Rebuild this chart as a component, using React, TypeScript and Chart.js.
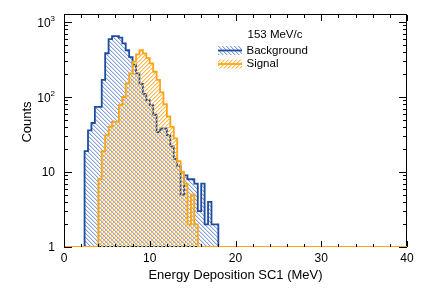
import React, { useEffect, useRef } from 'react';
import { Chart, registerables } from 'chart.js';
Chart.register(...registerables);

// ---- data ----
const binWidth = 0.4; // MeV per bin
const xMin = 0;
const xMax = 40;
const yMin = 1;
const yMax = 1240;

const bgStart = 2.4;
const bgCounts = [
  4, 19, 36, 45, 74, 74, 169, 383, 590, 650,
  650, 620, 520, 420, 340, 270, 207, 150, 110, 91,
  78, 58, 34, 38, 38, 31, 22, 15, 12, 5,
  9, 8, 8, 7, 3, 7, 2, 4, 2, 2,
];

const sigStart = 4.0;
const sigCounts = [
  4, 8, 19, 31, 40, 47, 47, 78, 100, 152,
  207, 296, 370, 423, 380, 330, 280, 217, 169, 115,
  80, 55, 40, 28, 14, 10, 7, 2, 5, 2,
];

const xMajorTicks = [0, 10, 20, 30, 40];
const xMinorStep = 2;
const yDecades = [1, 10, 100, 1000];
const yTickLabels = [
  { base: '1', exp: '' },
  { base: '10', exp: '' },
  { base: '10', exp: '2' },
  { base: '10', exp: '3' },
];

const legendTitle = '153 MeV/c';
const seriesNames = ['Background', 'Signal'];
const xTitle = 'Energy Deposition SC1 (MeV)';
const yTitle = 'Counts';

// ---- style ----
const FONT = '"Liberation Sans", Arial, Helvetica, sans-serif';
const BLUE = '#1f4d9e';
const BLUE_HATCH = ['#86a0d8', 'rgba(140,165,220,0.35)'];
const ORANGE = '#ffa514';
const ORANGE_HATCH = ['#ffb84a', 'rgba(255,190,90,0.45)'];

function toSteps(start: number, counts: number[]) {
  const pts: { x: number; y: number }[] = [{ x: xMin, y: yMin }, { x: start, y: yMin }];
  counts.forEach((c, i) => pts.push({ x: start + i * binWidth, y: Math.max(c, yMin) }));
  const end = start + counts.length * binWidth;
  pts.push({ x: end, y: yMin });
  pts.push({ x: xMax, y: yMin });
  return pts;
}

function makeHatch(ctx: CanvasRenderingContext2D, colors: string[], forward: boolean) {
  const s = 4;
  const c = document.createElement('canvas');
  c.width = s;
  c.height = s;
  const g = c.getContext('2d')!;
  for (let i = 0; i < s; i++) {
    const x = forward ? s - 1 - i : i;
    g.fillStyle = colors[0];
    g.fillRect(x, i, 1, 1);
    g.fillStyle = colors[1];
    g.fillRect((x + 1) % s, i, 1, 1);
  }
  return ctx.createPattern(c, 'repeat')!;
}

export default function App() {
  const ref = useRef<HTMLCanvasElement | null>(null);

  useEffect(() => {
    const canvas = ref.current!;
    const ctx = canvas.getContext('2d')!;
    const blueHatch = makeHatch(ctx, BLUE_HATCH, false);
    const orangeHatch = makeHatch(ctx, ORANGE_HATCH, true);

    const framePlugin = {
      id: 'rootFrame',
      beforeDatasetsDraw(chart: any) {
        const c = chart.ctx as CanvasRenderingContext2D;
        const a = chart.chartArea;
        c.save();
        c.strokeStyle = '#000';
        c.lineWidth = 1;
        c.strokeRect(a.left + 0.5, a.top - 0.5, a.right - a.left - 1, a.bottom - a.top);
        c.restore();
      },
      afterDatasetsDraw(chart: any) {
        const c = chart.ctx as CanvasRenderingContext2D;
        const a = chart.chartArea;
        const xs = chart.scales.x;
        const ys = chart.scales.y;
        c.save();
        c.strokeStyle = '#000';
        c.lineWidth = 1;
        c.beginPath();
        for (let v = xMin; v <= xMax + 1e-9; v += xMinorStep) {
          const px = Math.round(xs.getPixelForValue(v)) + 0.5;
          const major = xMajorTicks.includes(v);
          const len = major ? 6 : 3;
          c.moveTo(px, a.bottom);
          c.lineTo(px, a.bottom - len);
          c.moveTo(px, a.top);
          c.lineTo(px, a.top + len);
        }
        yDecades.forEach((d) => {
          for (let m = 1; m <= 9; m++) {
            const v = d * m;
            if (v > yMax) break;
            const py = Math.round(ys.getPixelForValue(v)) + 0.5;
            const len = m === 1 ? 8 : 4;
            c.moveTo(a.left, py);
            c.lineTo(a.left + len, py);
            c.moveTo(a.right, py);
            c.lineTo(a.right - len, py);
          }
        });
        c.stroke();
        c.restore();
      },
      afterDraw(chart: any) {
        const c = chart.ctx as CanvasRenderingContext2D;
        const a = chart.chartArea;
        const xs = chart.scales.x;
        const ys = chart.scales.y;
        c.save();
        c.fillStyle = '#000';
        // x tick labels
        c.font = `12px ${FONT}`;
        c.textAlign = 'center';
        c.textBaseline = 'middle';
        xMajorTicks.forEach((v) => {
          c.fillText(String(v), xs.getPixelForValue(v), a.bottom + 12);
        });
        // y tick labels
        const R = 55;
        yDecades.forEach((d, i) => {
          const py = ys.getPixelForValue(d);
          const lab = yTickLabels[i];
          c.textBaseline = 'middle';
          if (lab.exp) {
            c.font = `8px ${FONT}`;
            const ew = c.measureText(lab.exp).width;
            c.textAlign = 'right';
            c.fillText(lab.exp, R, py - 3);
            c.font = `12px ${FONT}`;
            c.fillText(lab.base, R - ew, py + 2);
          } else {
            c.font = `12px ${FONT}`;
            c.textAlign = 'right';
            c.fillText(lab.base, R, py + 1);
          }
        });
        // axis titles
        c.font = `13px ${FONT}`;
        c.textAlign = 'center';
        c.textBaseline = 'middle';
        c.fillText(xTitle, (a.left + a.right) / 2, 275);
        c.save();
        c.translate(27, 122);
        c.rotate(-Math.PI / 2);
        c.fillText(yTitle, 0, 0);
        c.restore();
        // legend
        c.font = `11.5px ${FONT}`;
        c.textAlign = 'left';
        c.textBaseline = 'middle';
        c.fillText(legendTitle, 247.5, 35);
        const entries = [
          { name: seriesNames[0], color: BLUE, hatch: blueHatch, y: 50.5 },
          { name: seriesNames[1], color: ORANGE, hatch: orangeHatch, y: 64 },
        ];
        entries.forEach((e) => {
          c.fillStyle = e.hatch;
          c.fillRect(218, e.y - 4.5, 24, 9);
          c.strokeStyle = e.color;
          c.lineWidth = 1.8;
          c.beginPath();
          c.moveTo(218, e.y);
          c.lineTo(242, e.y);
          c.stroke();
          c.fillStyle = '#000';
          c.fillText(e.name, 246.5, e.y);
        });
        c.restore();
      },
    };

    const chart = new Chart(canvas, {
      type: 'line',
      data: {
        datasets: [
          {
            label: seriesNames[0],
            data: toSteps(bgStart, bgCounts),
            stepped: 'after',
            borderColor: BLUE,
            borderWidth: 1.8,
            backgroundColor: blueHatch,
            fill: 'start',
            pointRadius: 0,
            order: 1,
          },
          {
            label: seriesNames[1],
            data: toSteps(sigStart, sigCounts),
            stepped: 'after',
            borderColor: ORANGE,
            borderWidth: 1.8,
            backgroundColor: orangeHatch,
            fill: 'start',
            pointRadius: 0,
            order: 0,
          },
        ],
      },
      options: {
        animation: false,
        responsive: false,
        events: [],
        layout: { padding: { left: 64, right: 22, top: 15, bottom: 45 } },
        scales: {
          x: { type: 'linear', min: xMin, max: xMax, display: false },
          y: { type: 'logarithmic', min: yMin, max: yMax, display: false },
        },
        plugins: { legend: { display: false }, tooltip: { enabled: false } },
      },
      plugins: [framePlugin],
    } as any);
    return () => chart.destroy();
  }, []);

  return (
    <div style={{ position: 'fixed', left: 0, top: 0, width: 429, height: 292, background: '#fff' }}>
      <canvas ref={ref} width={429} height={292} style={{ width: 429, height: 292, display: 'block' }} />
    </div>
  );
}
